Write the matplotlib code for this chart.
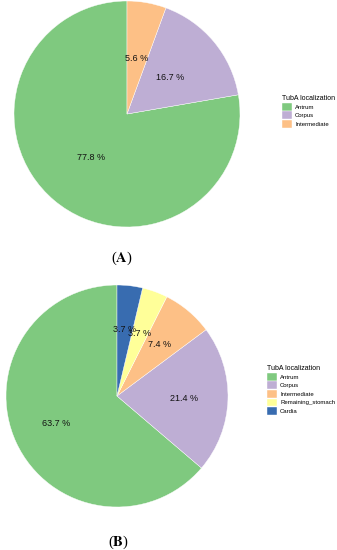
import matplotlib
matplotlib.use("Agg")
import matplotlib.pyplot as plt

### 0. Data
labels_a = ['Antrum', 'Corpus', 'Intermediate']
values_a = [77.8, 16.7, 5.6]
labels_b = ['Antrum', 'Corpus', 'Intermediate', 'Remaining_stomach', 'Cardia']
values_b = [63.7, 21.4, 7.4, 3.7, 3.7]
colors = ['#7fc97f', '#beaed4', '#fdc086', '#ffff99', '#386cb0']

W, H = 337, 550
plt.rcParams['font.family'] = ['Liberation Sans', 'DejaVu Sans']
fig = plt.figure(figsize=(W/100, H/100), dpi=100)

def pie_axes(cx, cy, r):
    return fig.add_axes([(cx-r)/W, 1-(cy+r)/H, 2*r/W, 2*r/H])

def draw(ax, vals, pctd):
    # show the printed percentages, not the ones pie recomputes
    it = iter(vals)
    wedges, texts, autotexts = ax.pie(vals, colors=colors[:len(vals)], startangle=90,
                                      autopct=lambda p: '%.1f %%' % next(it),
                                      pctdistance=pctd,
                                      wedgeprops=dict(linewidth=0.3, edgecolor='white'),
                                      textprops=dict(fontsize=6.5, color='#111111'))
    ax.set_xlim(-1, 1)
    ax.set_ylim(-1, 1)
    return wedges

def legend(handles, labs, x, y):
    fig.legend(handles, labs, title='TubA localization', loc='upper left',
               bbox_to_anchor=(x/W, 1-y/H), frameon=False, fontsize=4.3,
               title_fontsize=5, handlelength=1.6, handleheight=1.6,
               labelspacing=0.15, handletextpad=0.6, borderpad=0,
               alignment='left')

### 1. Pie A
axa = pie_axes(127, 114, 113)
wa = draw(axa, values_a, 0.5)
legend(wa, labels_a, 279, 92)

### 2. Pie B
axb = pie_axes(117, 396, 111)
wb = draw(axb, values_b, 0.6)
legend(wb, labels_b, 264, 362)

### 3. Panel labels
fig.text(122/W, 1-258/H, r'($\mathbf{A}$)', ha='center', va='center', fontsize=10.5,
         family='Liberation Serif', math_fontfamily='stix')
fig.text(118/W, 1-542/H, r'($\mathbf{B}$)', ha='center', va='center', fontsize=10.5,
         family='Liberation Serif', math_fontfamily='stix')

fig.savefig('out.png', dpi=100)
